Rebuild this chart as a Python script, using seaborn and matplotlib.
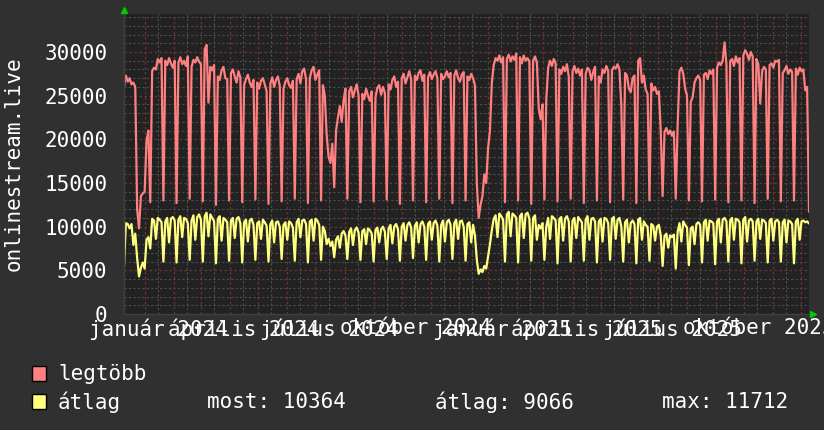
import numpy as np
import pandas as pd
import matplotlib
matplotlib.use("Agg")
import matplotlib.pyplot as plt
from matplotlib.patches import Rectangle
from matplotlib.lines import Line2D
import seaborn as sns

# ---------------- data (values in thousands) ----------------
start_date = "2023-12-10"
end_date = "2025-12-09"
step = "2D"

legtobb_k = [
    26.0, 27.3, 26.6, 27.0, 26.3, 26.5, 26.0,
    12.0, 9.8, 13.5, 13.8, 14.0, 19.8, 21.0,
    12.8, 27.8, 28.2, 28.0, 29.2, 28.8, 29.3,
    13.0, 29.0, 28.5, 29.3, 28.7, 28.2, 29.0,
    12.7, 28.8, 29.4, 28.6, 29.0, 28.4, 29.5,
    13.2, 28.3, 29.1, 28.8, 29.4, 28.9, 28.6,
    12.9, 30.3, 30.8, 24.2, 28.3, 27.9, 28.5,
    12.5, 27.2, 26.8, 27.9, 28.3, 27.0, 26.9,
    13.0, 27.6, 28.0, 27.2, 26.5, 27.8, 27.1,
    12.8, 26.2, 26.9, 27.4, 26.5, 26.0, 26.8,
    13.1, 26.5, 25.8, 26.7, 27.0, 26.3, 25.5,
    12.6, 26.4, 27.1, 26.0, 26.8, 27.2, 26.1,
    12.9, 25.8, 26.6, 27.0, 26.2, 25.9, 26.7,
    13.2, 26.9, 27.5, 26.4, 27.8, 28.1, 26.9,
    12.7, 27.0, 27.9, 28.3, 26.8, 27.4, 27.9,
    13.0, 26.2, 25.0, 20.5, 18.0, 17.3, 19.5,
    14.5, 21.0, 22.5, 23.8, 22.0, 24.5, 25.8,
    13.2, 25.5, 26.0, 24.8, 25.6, 26.3, 25.0,
    12.8, 25.2, 24.6, 25.8, 25.0, 24.4, 25.5,
    12.9, 24.8, 25.9, 26.2, 25.1, 26.0, 25.3,
    13.1, 26.3, 25.7, 26.8, 27.2, 26.0, 26.6,
    12.6, 27.0, 27.5, 26.4, 27.1, 27.8, 26.9,
    13.0, 27.3, 26.8, 27.6, 27.9, 26.7, 27.4,
    12.8, 27.1, 27.7, 26.9, 27.4, 27.8, 27.0,
    13.2, 27.5, 26.9, 27.2, 27.8, 27.1, 27.6,
    12.7, 27.3, 27.9, 27.0, 26.6, 27.4, 27.7,
    13.0, 27.2, 26.8, 27.5, 27.0, 26.2, 15.0,
    11.0, 12.5, 13.5, 16.0, 15.0, 19.0, 21.0,
    26.5, 28.5, 29.3, 29.0, 29.6, 28.8, 29.4,
    12.8, 29.2, 29.7, 28.9, 29.5, 29.1, 29.8,
    13.0, 29.4, 28.7, 29.6, 29.0, 29.3, 28.9,
    12.6, 29.0, 29.5, 28.8, 23.5, 22.3, 24.0,
    13.1, 24.5, 28.2, 29.0, 28.4, 29.2, 28.7,
    12.9, 28.0, 27.5, 28.3, 27.8, 28.6, 27.2,
    13.2, 27.8, 28.4, 27.6, 28.1, 27.3, 28.0,
    12.7, 27.5, 28.2, 27.9, 26.8, 27.7, 28.3,
    13.0, 27.2, 26.5, 28.0, 27.6, 28.4, 27.8,
    12.8, 27.9, 28.3, 28.1, 28.6, 28.0, 23.8,
    13.1, 27.6, 27.3, 25.8, 25.4, 27.0, 27.3,
    12.7, 29.0, 29.3, 26.5, 27.3, 25.7, 25.2,
    13.0, 26.4, 25.6, 26.0, 25.2, 25.5, 21.0,
    13.5, 20.8, 21.3, 20.6, 21.0, 20.4, 20.9,
    13.2, 21.5, 27.8, 28.2, 27.5, 25.8, 25.0,
    13.0, 24.3, 24.8, 26.5, 27.0, 27.3, 26.8,
    12.9, 27.4, 27.6, 26.9, 27.9, 27.5, 28.0,
    13.1, 28.2, 28.8, 28.5, 29.0, 31.1, 28.6,
    12.8, 28.9, 29.2, 28.4, 29.5, 28.8, 29.3,
    13.0, 29.6, 30.2, 29.8, 29.1, 30.0, 29.5,
    12.7, 29.2, 28.6, 24.1, 27.8, 28.3, 28.0,
    13.2, 28.5, 28.7, 28.2, 29.0, 28.9, 29.1,
    12.9, 27.6, 27.9, 28.4, 27.5, 28.0, 27.7,
    13.0, 28.1, 27.4, 28.2, 27.8, 28.0, 25.6,
    26.0, 11.7,
]

atlag_k = [
    5.4, 10.4, 10.3, 9.8, 10.3, 7.9, 9.2,
    6.4, 4.3, 5.3, 5.9, 5.2, 8.5, 8.8,
    7.5, 10.9, 10.7, 8.6, 11.0, 10.8, 10.5,
    6.0, 10.6, 11.0, 8.2, 10.9, 11.1, 10.7,
    5.9, 10.8, 11.2, 8.8, 11.0, 10.9, 10.4,
    6.2, 10.7, 11.3, 8.5, 11.1, 11.4, 10.8,
    6.0, 11.2, 11.6, 8.9, 11.4, 11.0, 10.6,
    5.8, 10.9, 11.2, 8.4, 11.0, 10.8, 10.5,
    6.1, 10.7, 11.0, 8.7, 10.9, 11.1, 10.4,
    5.9, 10.5, 10.8, 8.3, 10.7, 10.9, 10.2,
    6.2, 10.4, 10.6, 8.6, 10.8, 10.5, 10.1,
    6.0, 10.3, 10.7, 8.2, 10.5, 10.6, 10.0,
    6.3, 10.2, 10.5, 8.5, 10.6, 10.4, 9.9,
    6.1, 10.5, 10.9, 8.8, 10.7, 10.8, 10.3,
    5.9, 10.6, 10.8, 8.4, 10.9, 10.7, 10.2,
    6.2, 10.0, 9.5, 8.0, 8.6, 7.8, 8.3,
    6.5, 8.5, 8.9, 7.6, 9.2, 9.5, 9.0,
    6.3, 9.4, 9.8, 7.9, 9.6, 9.9, 9.3,
    6.2, 9.5, 9.7, 8.0, 9.8, 9.6, 9.2,
    6.0, 9.6, 9.9, 8.2, 9.7, 10.0, 9.4,
    6.3, 9.8, 10.2, 8.1, 10.0, 10.3, 9.7,
    6.1, 10.0, 10.4, 8.4, 10.2, 10.5, 9.9,
    6.4, 10.1, 10.5, 8.2, 10.3, 10.6, 10.0,
    6.2, 10.3, 10.6, 8.5, 10.4, 10.7, 10.1,
    6.0, 10.2, 10.7, 8.3, 10.5, 10.8, 10.2,
    6.3, 10.4, 10.8, 8.6, 10.6, 10.7, 10.0,
    6.1, 10.3, 10.5, 8.2, 10.2, 9.0, 6.2,
    4.6, 5.1, 4.8, 5.5, 5.2, 6.6, 8.0,
    9.6, 10.9, 11.3, 8.8, 11.5, 11.2, 10.8,
    6.0, 11.4, 11.7, 8.9, 11.5, 11.3, 11.0,
    5.9, 11.2, 11.5, 8.7, 11.4, 11.6, 10.9,
    6.1, 11.0, 11.3, 8.5, 10.2, 9.8, 10.4,
    6.2, 10.0, 11.0, 8.6, 11.2, 11.0, 10.7,
    5.8, 10.9, 11.1, 8.4, 10.9, 11.2, 10.6,
    6.0, 10.7, 11.0, 8.7, 11.1, 10.8, 10.5,
    6.1, 10.8, 11.2, 8.5, 10.9, 11.0, 10.6,
    5.9, 10.6, 10.9, 8.3, 11.0, 10.9, 10.4,
    6.2, 10.9, 11.1, 8.6, 10.8, 11.0, 10.0,
    6.0, 10.5, 10.8, 8.2, 10.4, 10.7, 10.3,
    5.8, 10.8, 11.0, 8.5, 10.6, 10.2, 10.0,
    6.1, 10.3, 10.1, 8.4, 10.0, 10.2, 9.0,
    5.5, 8.9, 9.2, 7.6, 9.0, 8.8, 9.1,
    5.2, 9.4, 10.4, 8.3, 10.6, 10.2, 9.9,
    5.6, 9.8, 10.0, 8.0, 10.3, 10.5, 10.2,
    5.9, 10.5, 10.8, 8.4, 10.7, 10.6, 10.4,
    5.7, 10.6, 10.9, 8.2, 10.8, 11.0, 10.6,
    6.0, 10.7, 11.0, 8.5, 10.9, 10.8, 10.5,
    5.8, 10.8, 11.1, 8.3, 10.7, 10.9, 10.6,
    6.1, 10.6, 10.9, 8.6, 10.8, 10.7, 10.4,
    5.9, 10.7, 10.9, 8.4, 10.6, 10.8, 10.5,
    6.0, 10.5, 10.8, 8.2, 10.7, 10.6, 10.3,
    5.8, 10.6, 10.9, 8.5, 10.6, 10.7, 10.5,
    10.6, 10.364,
]

series_names = ["legtöbb", "átlag"]
series_colors = ["#ff8080", "#ffff80"]

xtick_dates = ["2024-01-16", "2024-04-16", "2024-07-16", "2024-10-16",
               "2025-01-16", "2025-04-16", "2025-07-16", "2025-10-16"]
xtick_labels = ["január 2024", "április 2024", "július 2024", "október 2024",
                "január 2025", "április 2025", "július 2025", "október 2025"]
ytick_values = [0, 5000, 10000, 15000, 20000, 25000, 30000]
y_label = "onlinestream.live"
legend_stats = ["most: 10364", "átlag: 9066", "max: 11712"]

# ---------------- build frame ----------------
dates = pd.date_range(start=start_date, periods=len(legtobb_k), freq=step)
df = pd.DataFrame({
    "date": dates,
    "legtöbb": np.array(legtobb_k) * 1000,
    "átlag": np.array(atlag_k) * 1000,
})

# ---------------- style ----------------
W, H = 824, 430
BG = "#303030"
PLOT_BG = "#222222"
sns.set_style("dark", {"axes.facecolor": PLOT_BG, "figure.facecolor": BG})
MONO = ["DejaVu Sans Mono", "DejaVu Sans"]
plt.rcParams["font.family"] = MONO
FS = 15

fig = plt.figure(figsize=(W / 100, H / 100), dpi=100)
fig.patch.set_facecolor(BG)
L, R, T, B = 124, 809, 14, 314
ax = fig.add_axes([L / W, 1 - B / H, (R - L) / W, (B - T) / H])
ax.set_facecolor(PLOT_BG)

x0 = pd.Timestamp(start_date)
x1 = pd.Timestamp(end_date)
ax.set_xlim(x0, x1)
ax.set_ylim(0, 34350)

# grid lines
GRID_MINOR = "#4e4e4e"
GRID_MAJOR = "#6e3434"
dash = (0, (2, 2))
for v in range(1000, 34001, 1000):
    if v % 5000 == 0:
        ax.axhline(v, color=GRID_MAJOR, lw=0.9, ls=dash, zorder=1)
    else:
        ax.axhline(v, color=GRID_MINOR, lw=0.8, ls=dash, zorder=1)
month_starts = pd.date_range("2024-01-01", "2025-12-01", freq="MS")
mid_months = pd.date_range("2023-12-15", "2025-12-15", freq="MS") + pd.Timedelta(days=14)
for d in mid_months:
    if x0 <= d <= x1:
        ax.axvline(d, color=GRID_MINOR, lw=0.8, ls=dash, zorder=1)
for d in month_starts:
    ax.axvline(d, color=GRID_MAJOR, lw=0.9, ls=dash, zorder=1)

for name, col in zip(series_names, series_colors):
    sns.lineplot(data=df, x="date", y=name, ax=ax, color=col, lw=1.6, zorder=3)

ax.set_xlabel("")
ax.set_ylabel("")
ax.set_xticks([pd.Timestamp(d) for d in xtick_dates])
ax.set_xticklabels(xtick_labels, fontsize=FS, color="white", family=MONO)
ax.set_yticks(ytick_values)
ax.set_yticklabels([str(v) for v in ytick_values], fontsize=FS, color="white", family=MONO)
ax.tick_params(axis="x", length=0, pad=3)
ax.tick_params(axis="y", length=0, pad=12)
for s in ax.spines.values():
    s.set_visible(False)
ax.grid(False)

# axis lines
ax.plot([0, 0], [0, 1], transform=ax.transAxes, color="#404040", lw=1, clip_on=False, zorder=4)
ax.plot([0, 1], [0, 0], transform=ax.transAxes, color="#404040", lw=1, clip_on=False, zorder=4)

# green arrows
fig.add_artist(Line2D([124.5 / W], [1 - 9.5 / H], marker="^", color="#00cc00",
                      markersize=5, transform=fig.transFigure))
fig.add_artist(Line2D([813 / W], [1 - 314 / H], marker=">", color="#00cc00",
                      markersize=5, transform=fig.transFigure))

# y label
fig.text(14 / W, 1 - 164 / H, y_label, rotation=90, ha="center", va="center",
         fontsize=FS, color="white", family=MONO)

# legend
box_w, box_h = 14, 15
for (yc, col) in [(373.5, series_colors[0]), (401.5, series_colors[1])]:
    fig.add_artist(Rectangle((32 / W, 1 - (yc + box_h / 2) / H), box_w / W, box_h / H,
                             facecolor=col, edgecolor="black", lw=1,
                             transform=fig.transFigure))
fig.text(58 / W, 1 - 374 / H, series_names[0], ha="left", va="center",
         fontsize=FS, color="white", family=MONO)
fig.text(58 / W, 1 - 402 / H, series_names[1], ha="left", va="center",
         fontsize=FS, color="white", family=MONO)
for xs, t in zip([207, 435, 662], legend_stats):
    fig.text(xs / W, 1 - 402 / H, t, ha="left", va="center",
             fontsize=FS, color="white", family=MONO)

fig.savefig("out.png", dpi=100, facecolor=BG)
